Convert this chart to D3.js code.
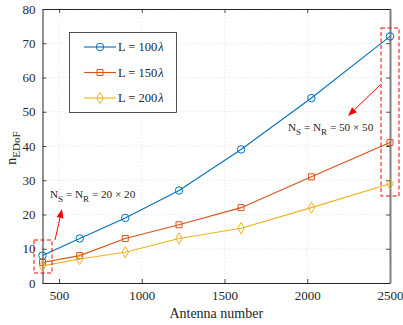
<!DOCTYPE html>
<html>
<head>
<meta charset="utf-8">
<script src="https://cdn.jsdelivr.net/npm/d3@7/dist/d3.min.js"></script>
<style>
  body { margin: 0; background: #fff; }
  svg { display: block; }
  svg text { font-family: "Liberation Serif", "Times New Roman", Times, "DejaVu Serif", serif; }
</style>
</head>
<body>
<svg width="403" height="325"></svg>
<script>
// data
const antennas = [400, 625, 900, 1225, 1600, 2025, 2500];
const l100 = [8, 13, 19, 27, 39, 54, 72];
const l150 = [6, 8, 13, 17, 22, 31, 41];
const l200 = [5, 7, 9, 13, 16, 22, 29];
const seriesNames = ['100', '150', '200'];
const xTicks = [500, 1000, 1500, 2000, 2500];
const yTicks = [0, 10, 20, 30, 40, 50, 60, 70, 80];

const colors = ['#0072BD', '#D95319', '#EDB120'];
const shapes = [d3.symbolCircle, d3.symbolSquare, d3.symbolDiamond];
const sizes = [44, 36, 36];

const margin = {left: 42.5, top: 9, right: 13, bottom: 42};
const W = 403, H = 325;
const svg = d3.select('svg');

const x = d3.scaleLinear().domain([400, 2500]).range([margin.left, W - margin.right]);
const y = d3.scaleLinear().domain([0, 80]).range([H - margin.bottom, margin.top]);

// grid
const grid = svg.append('g');
grid.selectAll('.gx').data(xTicks).enter().append('line')
  .attr('x1', d => x(d)).attr('x2', d => x(d))
  .attr('y1', y(0)).attr('y2', y(80))
  .attr('stroke', '#dcdcdc').attr('stroke-width', 0.8).attr('stroke-dasharray', '1,2');
grid.selectAll('.gy').data(yTicks).enter().append('line')
  .attr('x1', x(400)).attr('x2', x(2500))
  .attr('y1', d => y(d)).attr('y2', d => y(d))
  .attr('stroke', '#dcdcdc').attr('stroke-width', 0.8).attr('stroke-dasharray', '1,2');

// axes (box with inward ticks)
const fmt = d3.format('d');
const axB = svg.append('g').attr('transform', `translate(0,${y(0)})`)
  .call(d3.axisBottom(x).tickValues(xTicks).tickFormat(fmt).tickSizeInner(-4).tickSizeOuter(0).tickPadding(8));
const axT = svg.append('g').attr('transform', `translate(0,${y(80)})`)
  .call(d3.axisTop(x).tickValues(xTicks).tickSizeInner(-4).tickSizeOuter(0).tickFormat(''));
const axL = svg.append('g').attr('transform', `translate(${x(400)},0)`)
  .call(d3.axisLeft(y).tickValues(yTicks).tickFormat(fmt).tickSizeInner(-4).tickSizeOuter(0).tickPadding(7));
const axR = svg.append('g').attr('transform', `translate(${x(2500)},0)`)
  .call(d3.axisRight(y).tickValues(yTicks).tickSizeInner(-4).tickSizeOuter(0).tickFormat(''));

[axB, axT, axL, axR].forEach(a => {
  a.attr('font-family', null);
  a.selectAll('path').attr('stroke', '#262626').attr('stroke-width', 1);
  a.selectAll('line').attr('stroke', '#262626').attr('stroke-width', 0.8);
  a.selectAll('text').attr('font-size', 13).attr('fill', '#262626');
});
axR.selectAll('path').attr('stroke', '#808080').attr('stroke-width', 2);

// lines & markers
const allSeries = [l100, l150, l200];
const line = d3.line().x((d, i) => x(antennas[i])).y(d => y(d));
allSeries.forEach((vals, k) => {
  svg.append('path').datum(vals)
    .attr('d', line)
    .attr('fill', 'none').attr('stroke', colors[k]).attr('stroke-width', 1.1);
  svg.selectAll('.m' + k).data(vals).enter().append('path')
    .attr('transform', (d, i) => `translate(${x(antennas[i])},${y(d)})`)
    .attr('d', d3.symbol().type(shapes[k]).size(sizes[k]))
    .attr('fill', 'none').attr('stroke', colors[k]).attr('stroke-width', 1);
});

// legend
const lg = svg.append('g');
lg.append('rect').attr('x', 69.5).attr('y', 32.5).attr('width', 107).attr('height', 80)
  .attr('fill', '#fff').attr('stroke', '#262626').attr('stroke-width', 0.8);
seriesNames.forEach((n, k) => {
  const ly = 47 + k * 25.5;
  lg.append('line').attr('x1', 84).attr('x2', 116).attr('y1', ly).attr('y2', ly)
    .attr('stroke', colors[k]).attr('stroke-width', 1.1);
  lg.append('path').attr('transform', `translate(100,${ly})`)
    .attr('d', d3.symbol().type(shapes[k]).size(sizes[k]))
    .attr('fill', 'none').attr('stroke', colors[k]);
  const t = lg.append('text').attr('x', 118).attr('y', ly + 4)
    .attr('font-size', 12.5).attr('fill', '#262626');
  t.append('tspan').text('L = ' + n);
  t.append('tspan').attr('font-style', 'italic').attr('dx', 1).text('λ');
});

// axis labels
svg.append('text').attr('x', x(1450)).attr('y', 318)
  .attr('text-anchor', 'middle').attr('font-size', 14).attr('fill', '#262626')
  .text('Antenna number');
const yl = svg.append('text')
  .attr('transform', `translate(15.5,${y(40) + 2}) rotate(-90)`)
  .attr('text-anchor', 'middle').attr('font-size', 14).attr('fill', '#262626');
yl.append('tspan').text('n');
yl.append('tspan').attr('dy', 4).attr('font-size', 11).text('EDoF');

// annotations
const red = '#ff0000';
svg.append('rect').attr('x', 34).attr('y', 240).attr('width', 18).attr('height', 33)
  .attr('fill', 'none').attr('stroke', red).attr('stroke-width', 1).attr('stroke-dasharray', '4,2.5');
svg.append('rect').attr('x', 381).attr('y', 28).attr('width', 18).attr('height', 168)
  .attr('fill', 'none').attr('stroke', red).attr('stroke-width', 1).attr('stroke-dasharray', '4,2.5');

function arrow(x1, y1, x2, y2) {
  const ang = Math.atan2(y2 - y1, x2 - x1);
  const len = 9, w = 3.5;
  const bx = x2 - len * Math.cos(ang), by = y2 - len * Math.sin(ang);
  svg.append('line').attr('x1', x1).attr('y1', y1).attr('x2', bx).attr('y2', by)
    .attr('stroke', red).attr('stroke-width', 1);
  const px = -Math.sin(ang) * w, py = Math.cos(ang) * w;
  svg.append('path')
    .attr('d', `M${x2},${y2}L${bx + px},${by + py}L${bx - px},${by - py}Z`)
    .attr('fill', red);
}
arrow(55, 240, 62, 209);
arrow(380, 85, 348, 116);

function nsnr(tx, ty, n) {
  const t = svg.append('text').attr('x', tx).attr('y', ty)
    .attr('font-size', 11.2).attr('fill', '#262626');
  t.append('tspan').text('N');
  t.append('tspan').attr('dy', 3.5).attr('font-size', 9).text('S');
  t.append('tspan').attr('dy', -3.5).text(' = N');
  t.append('tspan').attr('dy', 3.5).attr('font-size', 9).text('R');
  t.append('tspan').attr('dy', -3.5).text(' = ' + n + ' \u00d7 ' + n);
}
nsnr(50, 198, 20);
nsnr(288, 131, 50);
</script>
</body>
</html>
